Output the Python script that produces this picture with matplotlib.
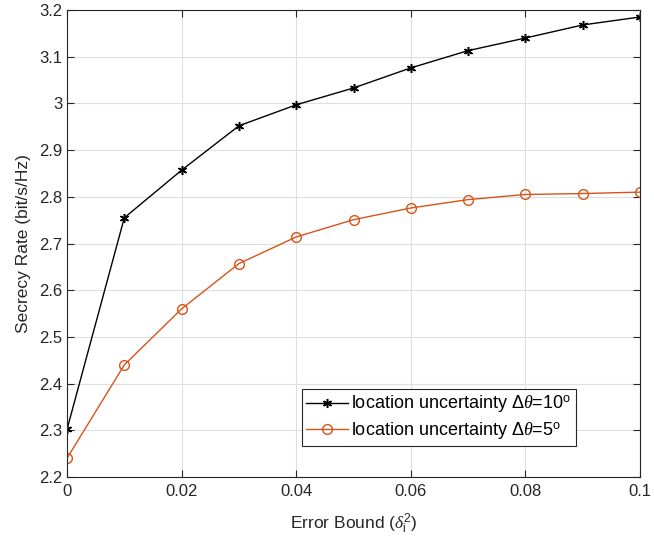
import matplotlib
matplotlib.use("Agg")
import matplotlib.pyplot as plt

plt.rcParams['font.family'] = ['Liberation Sans', 'DejaVu Sans']
plt.rcParams['mathtext.fontset'] = 'custom'
plt.rcParams['mathtext.rm'] = 'Liberation Sans'
plt.rcParams['mathtext.it'] = 'Liberation Serif:italic'

x = [0, 0.01, 0.02, 0.03, 0.04, 0.05, 0.06, 0.07, 0.08, 0.09, 0.1]
rate_10deg = [2.302, 2.755, 2.857, 2.952, 2.997, 3.033, 3.076, 3.113, 3.140, 3.168, 3.185]
rate_5deg = [2.240, 2.440, 2.560, 2.657, 2.714, 2.751, 2.776, 2.794, 2.805, 2.807, 2.810]
xticks = [0, 0.02, 0.04, 0.06, 0.08, 0.1]
xticklabels = ['0', '0.02', '0.04', '0.06', '0.08', '0.1']
yticks = [2.2, 2.3, 2.4, 2.5, 2.6, 2.7, 2.8, 2.9, 3.0, 3.1, 3.2]
yticklabels = ['2.2', '2.3', '2.4', '2.5', '2.6', '2.7', '2.8', '2.9', '3', '3.1', '3.2']

fig = plt.figure(figsize=(6.54, 5.5), dpi=100)
ax = fig.add_axes([67/654, 1-477/550, (640-67)/654, (477-10)/550])

asterisk = (6, 2, 0)
ax.plot(x, rate_10deg, color='black', marker=asterisk, markersize=6.5, markeredgewidth=1.1,
        linewidth=1, label=r'location uncertainty $\Delta\theta$=10$^\mathrm{o}$')
ax.plot(x, rate_5deg, color='#D95319', marker='o', markersize=7, markerfacecolor='none',
        linewidth=1, label=r'location uncertainty $\Delta\theta$=5$^\mathrm{o}$')

ax.set_xlim(0, 0.1)
ax.set_ylim(2.2, 3.2)
ax.set_xticks(xticks)
ax.set_xticklabels(xticklabels)
ax.set_yticks(yticks)
ax.set_yticklabels(yticklabels)
ax.grid(True, color='#dfdfdf', linewidth=0.8)
ax.set_axisbelow(True)
ax.tick_params(direction='in', top=True, right=True, labelsize=12, colors='#262626', length=5)
ax.tick_params(axis='x', pad=5)
for s in ax.spines.values():
    s.set_color('#262626')
    s.set_linewidth(0.8)

ax.set_xlabel(r'Error Bound ($\delta_\mathrm{i}^2$)', fontsize=12.5, color='#262626', labelpad=9)
ax.set_ylabel('Secrecy Rate (bit/s/Hz)', fontsize=12.5, color='#262626', labelpad=6)

leg = ax.legend(loc='lower right', bbox_to_anchor=(0.888, 0.066), fontsize=13,
                fancybox=False, framealpha=1, edgecolor='#262626', borderpad=0.25,
                handlelength=2.3, handletextpad=0.2, labelspacing=0.3, borderaxespad=0)
leg.get_frame().set_linewidth(0.8)

fig.savefig('out.png', dpi=100)
